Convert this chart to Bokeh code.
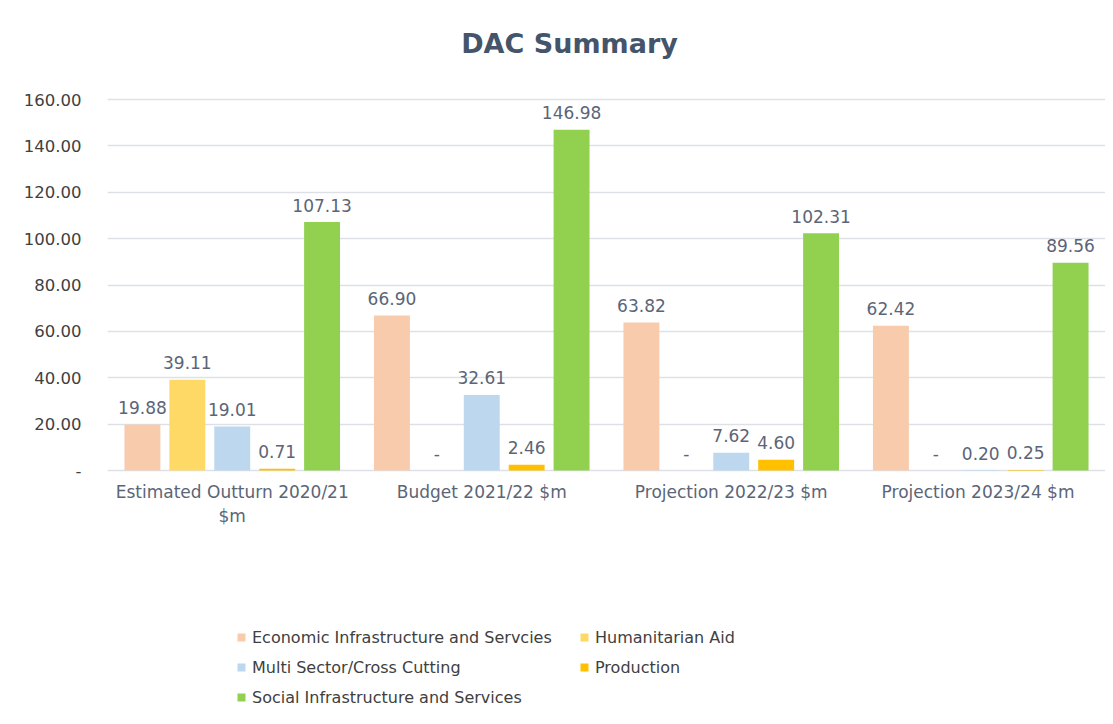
from bokeh.plotting import figure
from bokeh.models import ColumnDataSource, FactorRange, Legend, LegendItem, NumeralTickFormatter, FixedTicker, Label
from bokeh.transform import dodge
from bokeh.core.properties import value
from bokeh.embed import file_html
from bokeh.resources import INLINE

categories = ["Estimated Outturn 2020/21\n$m", "Budget 2021/22 $m", "Projection 2022/23 $m", "Projection 2023/24  $m"]
series_names = ["Economic Infrastructure and Servcies", "Humanitarian Aid", "Multi Sector/Cross Cutting", "Production", "Social Infrastructure and Services"]
economic = [19.88, 66.90, 63.82, 62.42]
humanitarian = [39.11, 0.0, 0.0, 0.0]
multi_sector = [19.01, 32.61, 7.62, 0.20]
production = [0.71, 2.46, 4.60, 0.25]
social = [107.13, 146.98, 102.31, 89.56]
y_ticks = [0, 20, 40, 60, 80, 100, 120, 140, 160]

colors = ["#f8cbad", "#ffd966", "#bdd7ee", "#ffc000", "#92d050"]
series = [economic, humanitarian, multi_sector, production, social]
keys = ["econ", "hum", "multi", "prod", "social"]
offsets = [-0.36, -0.18, 0.0, 0.18, 0.36]

data = {"cat": categories}
for k, s in zip(keys, series):
    data[k] = s
    data[k + "_lbl"] = [f"{v:.2f}" if v else "-" for v in s]
src = ColumnDataSource(data)

FONT = "DejaVu Sans"
LABEL_COLOR = "#5b6577"

W, H = 1105, 708
TOP, ZERO_Y = 99, 470          # pixel rows of y=160 and y=0
Y_MAX = 160
px_per_unit = (ZERO_Y - TOP) / Y_MAX
y_lo = -(H - ZERO_Y) / px_per_unit    # frame extends down to hold the legend
y_hi = Y_MAX + TOP / px_per_unit      # and up to hold the title

p = figure(x_range=FactorRange(factors=categories, range_padding=0), y_range=(y_lo, y_hi),
           width=W, height=H, output_backend="svg", toolbar_location=None,
           min_border_left=107, min_border_right=0, min_border_top=0, min_border_bottom=0)
p.outline_line_color = None
p.background_fill_color = "white"
p.border_fill_color = "white"
p.xgrid.grid_line_color = None
p.ygrid.grid_line_color = "#dde1e7"
p.ygrid.grid_line_width = 1.5
p.ygrid.ticker = FixedTicker(ticks=y_ticks)

p.yaxis.ticker = FixedTicker(ticks=y_ticks)
p.yaxis.formatter = NumeralTickFormatter(format="0.00")
p.yaxis.major_label_overrides = {0: "-"}
p.yaxis.axis_line_color = None
p.yaxis.major_tick_line_color = None
p.yaxis.minor_tick_line_color = None
p.yaxis.major_label_standoff = 20
p.yaxis.major_label_text_font = FONT
p.yaxis.major_label_text_font_size = "16.5px"
p.yaxis.major_label_text_color = "#404040"

p.xaxis.fixed_location = 0
p.xaxis.axis_line_color = None
p.xaxis.major_tick_line_color = None
p.xaxis.minor_tick_line_color = None
p.xaxis.major_label_standoff = 5
p.xaxis.major_label_text_font = FONT
p.xaxis.major_label_text_font_size = "17px"
p.xaxis.major_label_text_color = LABEL_COLOR

renderers = []
for k, c, off in zip(keys, colors, offsets):
    r = p.vbar(x=dodge("cat", off, range=p.x_range), top=k, width=0.144, source=src,
               fill_color=c, line_color=None)
    renderers.append(r)
    p.text(x=dodge("cat", off, range=p.x_range), y=k, text=k + "_lbl", source=src,
           text_align="center", text_baseline="middle", y_offset=-17,
           text_font=value(FONT), text_font_size="17px", text_color=LABEL_COLOR)

left_items = [LegendItem(label=series_names[i], renderers=[renderers[i]]) for i in (0, 2, 4)]
right_items = [LegendItem(label=series_names[i], renderers=[renderers[i]]) for i in (1, 3)]
for items, loc in ((left_items, (129, 1)), (right_items, (472, 31))):
    lg = Legend(items=items, location=loc, glyph_width=10, glyph_height=10, label_standoff=6,
                label_height=20, spacing=10, padding=0, margin=0, border_line_color=None,
                background_fill_alpha=0, label_text_font=FONT, label_text_font_size="16px",
                label_text_color="#404040")
    p.add_layout(lg, "center")

title = Label(x=462, y=H - 43, x_units="screen", y_units="screen", text="DAC Summary",
              text_align="center", text_baseline="middle", text_font=FONT,
              text_font_size="27px", text_font_style="bold", text_color="#44546a")
p.add_layout(title)

open("out.html", "w").write(file_html(p, INLINE))
